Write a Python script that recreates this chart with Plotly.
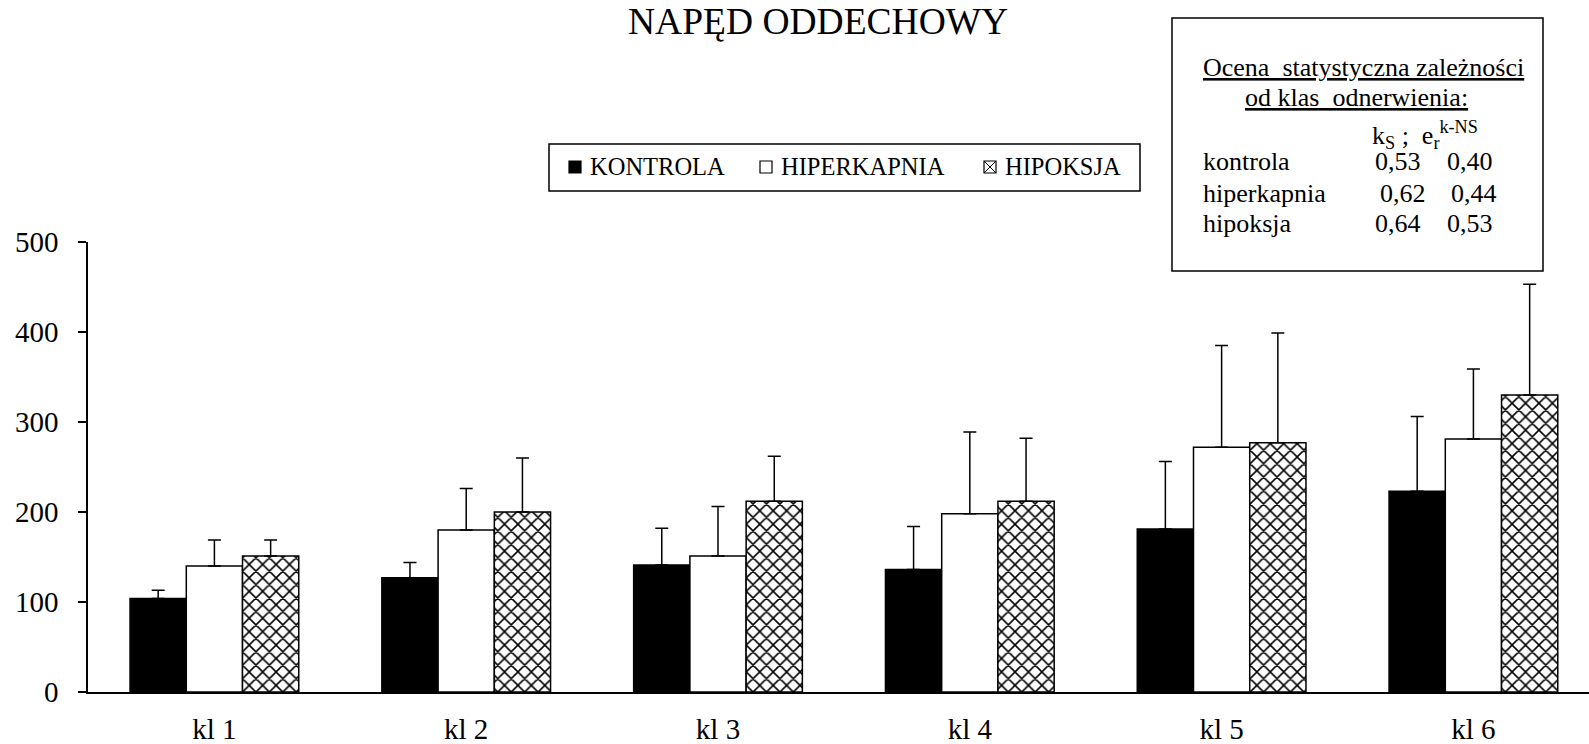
import plotly.graph_objects as go

# ---------------- data ----------------
categories = ["kl 1", "kl 2", "kl 3", "kl 4", "kl 5", "kl 6"]
series_names = ["KONTROLA", "HIPERKAPNIA", "HIPOKSJA"]
kontrola = [104, 127, 141, 136, 181, 223]
kontrola_sd = [9, 17, 41, 48, 75, 83]
hiperkapnia = [140, 180, 151, 198, 272, 281]
hiperkapnia_sd = [29, 46, 55, 91, 113, 78]
hipoksja = [151, 200, 212, 212, 277, 330]
hipoksja_sd = [18, 60, 50, 70, 122, 123]
y_ticks = [0, 100, 200, 300, 400, 500]

stat_rows = ["kontrola", "hiperkapnia", "hipoksja"]
stat_ks = ["0,53", "0,62", "0,64"]
stat_er = ["0,40", "0,44", "0,53"]

# ---------------- layout geometry ----------------
W, H = 1589, 744
ML, MR, MT, MB = 88, 0, 242, 52
PW, PH = W - ML - MR, H - MT - MB
FONT = "Liberation Serif, Times New Roman, serif"


def px(x):
    return (x - ML) / PW


def py(y):
    return (H - MB - y) / PH


err_style = dict(type="data", symmetric=False, color="black", thickness=1.5, width=6.5)
line_style = dict(color="black", width=1.5)

fig = go.Figure()
fig.add_trace(go.Bar(
    name=series_names[0], x=categories, y=kontrola, showlegend=False,
    marker=dict(color="black", line=line_style),
    error_y=dict(array=kontrola_sd, arrayminus=[0] * len(kontrola_sd), **err_style),
))
fig.add_trace(go.Bar(
    name=series_names[1], x=categories, y=hiperkapnia, showlegend=False,
    marker=dict(color="white", line=line_style),
    error_y=dict(array=hiperkapnia_sd, arrayminus=[0] * len(hiperkapnia_sd), **err_style),
))
fig.add_trace(go.Bar(
    name=series_names[2], x=categories, y=hipoksja, showlegend=False,
    marker=dict(color="white", line=line_style,
                pattern=dict(shape="x", fgcolor="black", bgcolor="white", size=9.5, solidity=0.3,
                             fillmode="replace")),
    error_y=dict(array=hipoksja_sd, arrayminus=[0] * len(hipoksja_sd), **err_style),
))

annotations = [
    dict(text="NAPĘD ODDECHOWY", x=px(818), y=py(22), xanchor="center", yanchor="middle",
         font=dict(size=37.5)),
    dict(text="<u>Ocena\u00a0 statystyczna zależności</u>", x=px(1201), y=py(67),
         xanchor="left", yanchor="middle", font=dict(size=26)),
    dict(text="<u>od klas\u00a0 odnerwienia:</u>", x=px(1243), y=py(98),
         xanchor="left", yanchor="middle", font=dict(size=26)),
    dict(text="k<sub>S</sub>\u00a0;\u00a0\u00a0e<sub>r</sub><sup>k-NS</sup>", x=px(1370), y=py(135),
         xanchor="left", yanchor="middle", font=dict(size=26)),
]
row_y = [161, 193, 223]
ks_x = [1373, 1378, 1373]
er_x = [1445, 1449, 1445]
for i, name in enumerate(stat_rows):
    annotations.append(dict(text=name, x=px(1201), y=py(row_y[i]), xanchor="left",
                            yanchor="middle", font=dict(size=26)))
    annotations.append(dict(text=stat_ks[i], x=px(ks_x[i]), y=py(row_y[i]), xanchor="left",
                            yanchor="middle", font=dict(size=26)))
    annotations.append(dict(text=stat_er[i], x=px(er_x[i]), y=py(row_y[i]), xanchor="left",
                            yanchor="middle", font=dict(size=26)))

# legend (drawn as a framed key above the plot)
leg_icon_x = [569, 760, 984]
leg_y = 167
for i, name in enumerate(series_names):
    annotations.append(dict(text=name, x=px(leg_icon_x[i] + 19), y=py(leg_y), xanchor="left",
                            yanchor="middle", font=dict(size=24.5)))

for a in annotations:
    a.update(xref="paper", yref="paper", showarrow=False)
    a["font"].update(family=FONT, color="black")

box_line = dict(color="black", width=1.5)
shapes = [
    # statistics box
    dict(type="rect", xref="paper", yref="paper",
         x0=px(1172), x1=px(1543), y0=py(271), y1=py(18),
         line=box_line, fillcolor="rgba(0,0,0,0)"),
    # legend frame
    dict(type="rect", xref="paper", yref="paper",
         x0=px(549), x1=px(1140), y0=py(191), y1=py(144),
         line=box_line, fillcolor="rgba(0,0,0,0)"),
]
icon_fill = ["black", "white", "white"]
for i in range(3):
    x0, x1 = leg_icon_x[i], leg_icon_x[i] + 12
    y0, y1 = leg_y - 6, leg_y + 6
    shapes.append(dict(type="rect", xref="paper", yref="paper",
                       x0=px(x0), x1=px(x1), y0=py(y1), y1=py(y0),
                       line=dict(color="black", width=1.2), fillcolor=icon_fill[i]))
    if i == 2:
        shapes.append(dict(type="line", xref="paper", yref="paper",
                           x0=px(x0), x1=px(x1), y0=py(y0), y1=py(y1),
                           line=dict(color="black", width=1)))
        shapes.append(dict(type="line", xref="paper", yref="paper",
                           x0=px(x0), x1=px(x1), y0=py(y1), y1=py(y0),
                           line=dict(color="black", width=1)))

fig.update_layout(
    width=W, height=H, autosize=False,
    margin=dict(l=ML, r=MR, t=MT, b=MB, pad=0, autoexpand=False),
    paper_bgcolor="white", plot_bgcolor="white",
    font=dict(family=FONT, color="black"),
    barmode="group", bargap=0.33, bargroupgap=0,
    showlegend=False,
    annotations=annotations,
    shapes=shapes,
    xaxis=dict(range=[-0.502, 5.459], showline=True, linecolor="black", linewidth=1.5,
               ticks="", showgrid=False, zeroline=False, automargin=False,
               tickfont=dict(family=FONT, size=29, color="black"), ticklabelstandoff=10),
    yaxis=dict(range=[0, 500], tickvals=y_ticks, showline=True, linecolor="black",
               linewidth=1.5, ticks="outside", ticklen=8, tickwidth=1.5, tickcolor="black",
               showgrid=False, zeroline=False, automargin=False,
               tickfont=dict(family=FONT, size=29, color="black"), ticklabelstandoff=14),
)

fig.write_html("out.html")
